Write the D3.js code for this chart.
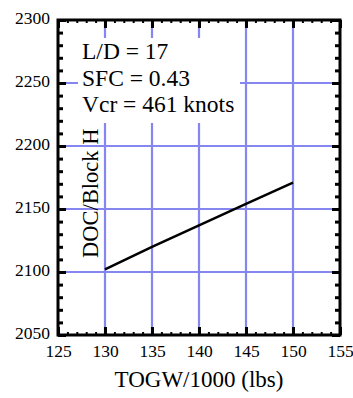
<!DOCTYPE html>
<html>
<head>
<meta charset="utf-8">
<script src="https://cdn.jsdelivr.net/npm/d3@7"></script>
<style>
  body { margin: 0; background: #fff; }
</style>
</head>
<body>
<div id="chart"></div>
<script>
// values
const togw = [130, 135, 140, 145, 150];
const docBlock = [2102, 2120, 2137, 2154, 2171];
const xTicks = [125, 130, 135, 140, 145, 150, 155];
const yTicks = [2050, 2100, 2150, 2200, 2250, 2300];
const notes = ["L/D = 17", "SFC = 0.43", "Vcr = 461 knots"];
const xTitle = "TOGW/1000 (lbs)";
const yTitle = "DOC/Block H";

const width = 353, height = 398;
const plot = {left: 58, right: 340, top: 20, bottom: 335};
const gridColor = "#8686f0";
const serif = "'Liberation Serif', 'DejaVu Serif', serif";

// pin each text to its measured width (forces the serif face to be laid out)
function fit(sel, k) {
    sel.each(function () {
        const w = this.getComputedTextLength();
        if (w > 0) d3.select(this).attr("textLength", w * k).attr("lengthAdjust", "spacingAndGlyphs");
    });
}

const svg = d3.select("#chart").append("svg")
    .attr("width", width)
    .attr("height", height)
    .attr("font-family", serif);

const x = d3.scaleLinear().domain([125, 155]).range([plot.left, plot.right]);
const y = d3.scaleLinear().domain([2050, 2300]).range([plot.bottom, plot.top]);

// grid lines
svg.append("g").selectAll("line")
    .data(xTicks.slice(1, -1))
    .join("line")
    .attr("x1", d => x(d)).attr("x2", d => x(d))
    .attr("y1", plot.top).attr("y2", plot.bottom)
    .attr("stroke", gridColor).attr("stroke-width", 2.2);

svg.append("g").selectAll("line")
    .data(yTicks.slice(1, -1))
    .join("line")
    .attr("y1", d => y(d)).attr("y2", d => y(d))
    .attr("x1", plot.left).attr("x2", plot.right)
    .attr("stroke", gridColor).attr("stroke-width", 2.2);

// the data line
svg.append("path")
    .datum(togw.map((t, i) => [t, docBlock[i]]))
    .attr("fill", "none")
    .attr("stroke", "#000")
    .attr("stroke-width", 2.5)
    .attr("d", d3.line().x(d => x(d[0])).y(d => y(d[1])));

// y title (sits inside the frame)
svg.append("text")
    .attr("transform", "translate(98,258) rotate(-90)")
    .attr("font-size", 22.5)
    .text(yTitle)
    .call(fit, 1);

// white box behind the notes
svg.append("rect")
    .attr("x", 78).attr("y", 38)
    .attr("width", 162).attr("height", 85)
    .attr("fill", "#fff");

svg.append("g").selectAll("text")
    .data(notes)
    .join("text")
    .attr("x", 82)
    .attr("y", (d, i) => 59 + i * 26.5)
    .attr("font-size", 23.5)
    .text(d => d)
    .call(fit, 1);

// axes, ticks pointing inward
const minorX = d3.range(125, 156, 1);
const minorY = d3.range(2050, 2301, 10);

function styleTicks(g, w) {
    g.attr("font-family", serif).attr("font-size", 17.5);
    g.select(".domain").remove();
    g.selectAll(".tick line").attr("stroke", "#000").attr("stroke-width", w);
    g.selectAll("text").attr("fill", "#000").call(fit, 1);
}

svg.append("g")
    .attr("transform", `translate(0,${plot.bottom})`)
    .call(d3.axisBottom(x).tickValues(minorX).tickFormat("").tickSizeInner(-3).tickSizeOuter(0))
    .call(g => styleTicks(g, 2));
svg.append("g")
    .attr("transform", `translate(0,${plot.bottom})`)
    .call(d3.axisBottom(x).tickValues(xTicks).tickFormat(d3.format("d")).tickSizeInner(-8).tickSizeOuter(0).tickPadding(10))
    .call(g => styleTicks(g, 3));

svg.append("g")
    .attr("transform", `translate(0,${plot.top})`)
    .call(d3.axisTop(x).tickValues(minorX).tickFormat("").tickSizeInner(-3).tickSizeOuter(0))
    .call(g => styleTicks(g, 2));
svg.append("g")
    .attr("transform", `translate(0,${plot.top})`)
    .call(d3.axisTop(x).tickValues(xTicks).tickFormat("").tickSizeInner(-8).tickSizeOuter(0))
    .call(g => styleTicks(g, 3));

svg.append("g")
    .attr("transform", `translate(${plot.left},0)`)
    .call(d3.axisLeft(y).tickValues(minorY).tickFormat("").tickSizeInner(-5).tickSizeOuter(0))
    .call(g => styleTicks(g, 3));
svg.append("g")
    .attr("transform", `translate(${plot.left},0)`)
    .call(d3.axisLeft(y).tickValues(yTicks).tickFormat(d3.format("d")).tickSizeInner(-8).tickSizeOuter(0).tickPadding(8))
    .call(g => styleTicks(g, 3))
    .call(g => g.selectAll("text").attr("dy", "0.2em"));

svg.append("g")
    .attr("transform", `translate(${plot.right},0)`)
    .call(d3.axisRight(y).tickValues(minorY).tickFormat("").tickSizeInner(-5).tickSizeOuter(0))
    .call(g => styleTicks(g, 3));
svg.append("g")
    .attr("transform", `translate(${plot.right},0)`)
    .call(d3.axisRight(y).tickValues(yTicks).tickFormat("").tickSizeInner(-8).tickSizeOuter(0))
    .call(g => styleTicks(g, 3));

// frame
svg.append("rect")
    .attr("x", plot.left).attr("y", plot.top)
    .attr("width", plot.right - plot.left)
    .attr("height", plot.bottom - plot.top)
    .attr("fill", "none")
    .attr("stroke", "#000")
    .attr("stroke-width", 3);

svg.append("text")
    .attr("x", (plot.left + plot.right) / 2)
    .attr("y", 387)
    .attr("text-anchor", "middle")
    .attr("font-size", 23)
    .text(xTitle)
    .call(fit, 1);
</script>
</body>
</html>
